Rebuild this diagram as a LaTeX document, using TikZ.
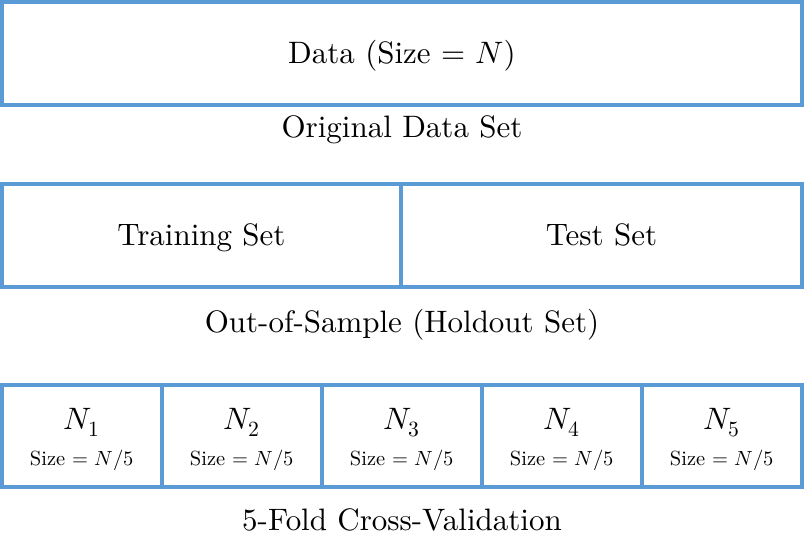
\documentclass[tikz,border=0pt]{standalone}
\usepackage{fontspec}
\usepackage{unicode-math}
\setmainfont{lmroman10-regular.otf}[ItalicFont=lmroman10-italic.otf, BoldFont=lmroman10-bold.otf]
\usepackage{tikz}

\definecolor{boxblue}{RGB}{91,155,213}
\tikzset{
    part/.style={rectangle, draw=boxblue, line width=4pt, inner sep=0pt, outer sep=0pt, minimum height=102pt},
    big/.style={font=\fontsize{31}{35}\selectfont, text height=22pt, text depth=2pt},
    caption/.style={anchor=base, font=\fontsize{31}{35}\selectfont},
    small/.style={anchor=base, font=\fontsize{20.5}{24}\selectfont},
}

\begin{document}
\begin{tikzpicture}[x=1pt, y=-1pt]
                \useasboundingbox (0,0) rectangle (804,552);

                % Boxes
                \node[part, big, minimum width=800pt, minimum height=103pt] (data) at (402,53.5) {Data (Size = $N$)};
                \node[part, big, minimum width=399pt, minimum height=103pt] (train) at (201.5,235.5) {Training Set};
                \node[part, big, minimum width=401pt, minimum height=103pt] (test) at (601.5,235.5) {Test Set};

                % Folds
                \node[part, minimum width=160pt] (n1) at (82,436) {};
                \node[part, minimum width=160pt] (n2) at (242,436) {};
                \node[part, minimum width=160pt] (n3) at (402,436) {};
                \node[part, minimum width=160pt] (n4) at (562,436) {};
                \node[part, minimum width=160pt] (n5) at (722,436) {};

                % Fold labels
                \node[caption] (l1) at (82,429) {$N_1$};
                \node[caption] (l2) at (242,429) {$N_2$};
                \node[caption] (l3) at (402,429) {$N_3$};
                \node[caption] (l4) at (562,429) {$N_4$};
                \node[caption] (l5) at (722,429) {$N_5$};
                \node[small] (s1) at (82,465) {Size = $N/5$};
                \node[small] (s2) at (242,465) {Size = $N/5$};
                \node[small] (s3) at (402,465) {Size = $N/5$};
                \node[small] (s4) at (562,465) {Size = $N/5$};
                \node[small] (s5) at (722,465) {Size = $N/5$};

                % Captions
                \node[caption] (c1) at (402,137) {Original Data Set};
                \node[caption] (c2) at (402,332) {Out-of-Sample (Holdout Set)};
                \node[caption] (c3) at (402,530) {5-Fold Cross-Validation};
\end{tikzpicture}
\end{document}
